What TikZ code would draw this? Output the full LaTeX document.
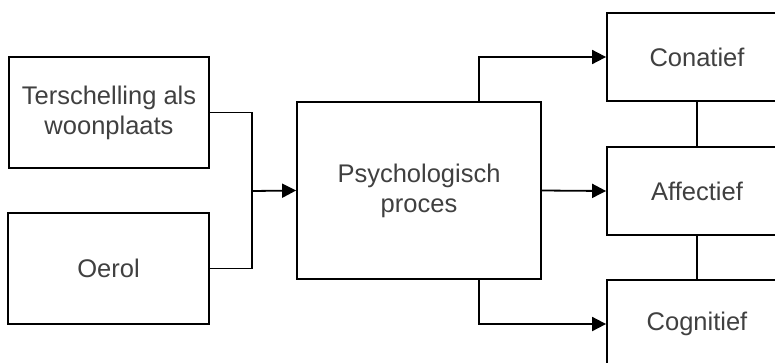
\documentclass[tikz,border=0pt]{standalone}
\usepackage{fontspec}
\setmainfont{Liberation Sans}
\usetikzlibrary{arrows.meta}
\definecolor{txt}{HTML}{404040}
\begin{document}
\begin{tikzpicture}[x=1pt,y=-1pt,
  box/.style={draw=black,line width=1.8pt,fill=white,rectangle,inner sep=0pt,
    text=txt,align=center,font=\fontsize{25.5}{30}\selectfont},
  conn/.style={draw=black,line width=1.8pt},
  arr/.style={conn,-{Triangle[length=14pt,width=14pt]}}]
\useasboundingbox (0,0) rectangle (775,362);
\clip (0,0) rectangle (775,362);
\node[box,minimum width=200pt,minimum height=111pt] (b1) at (109,112.5) {\raisebox{-3pt}{Terschelling als}\\\raisebox{-3pt}{woonplaats}};
\node[box,minimum width=201pt,minimum height=111pt] (b2) at (108.5,268.5) {Oerol};
\node[box,minimum width=244pt,minimum height=177pt] (b3) at (419,190.5) {Psychologisch\\proces};
\node[box,minimum width=180pt,minimum height=88pt] (con) at (697,57) {Conatief};
\node[box,minimum width=180pt,minimum height=88pt] (aff) at (697,191) {Affectief};
\node[box,minimum width=180pt,minimum height=88pt] (cog) at (697,324) {Cognitief};
\coordinate (j) at (252,191);
\draw[conn] (b1.east) -| (j);
\draw[conn] (b2.east) -| (j);
\draw[arr] (j) -- (b3.west);
\draw[arr] ([xshift=60pt]b3.north) |- (con.west);
\draw[arr] (b3.east) -- (aff.west);
\draw[arr] ([xshift=60pt]b3.south) |- (cog.west);
\draw[conn] (con.south) -- (aff.north);
\draw[conn] (aff.south) -- (cog.north);
\end{tikzpicture}
\end{document}
